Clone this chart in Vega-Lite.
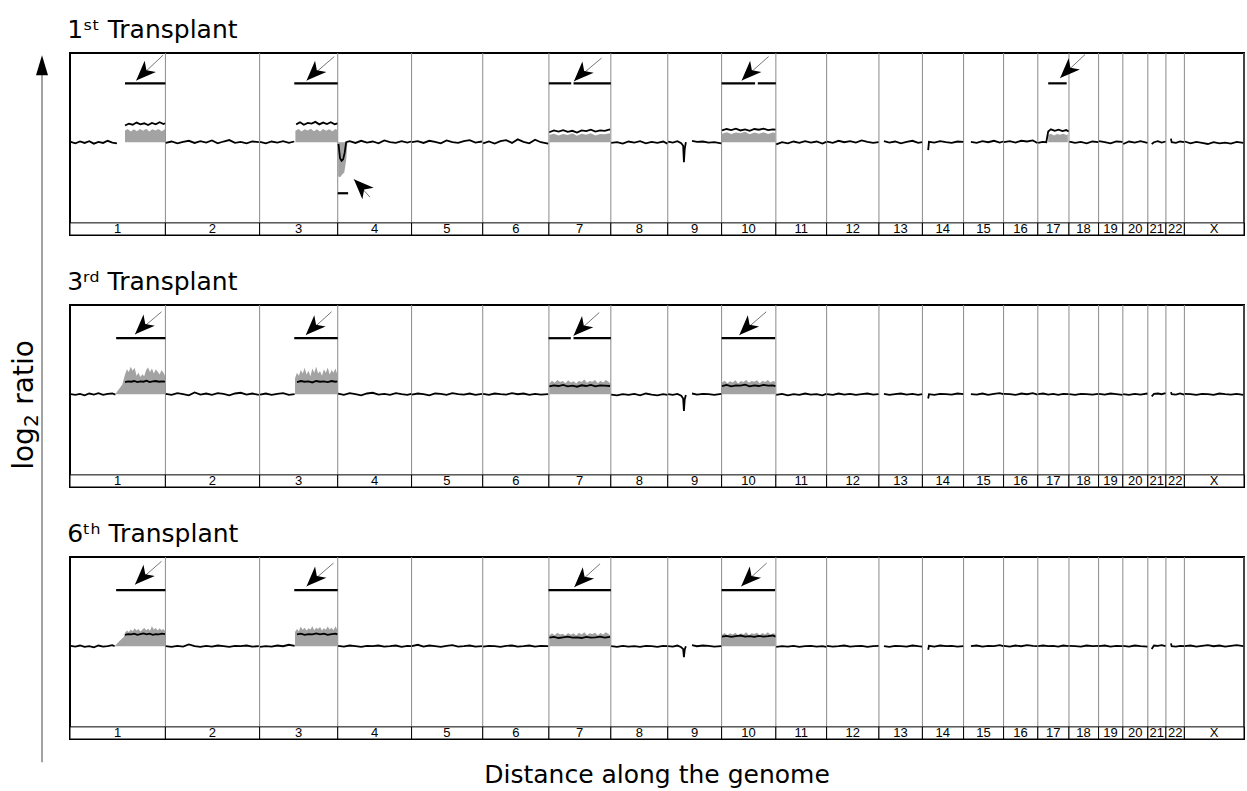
{
"$schema": "https://vega.github.io/schema/vega-lite/v6.json",
"background": "white",
"padding": {"left": 0, "top": 16, "right": 0, "bottom": 0},
"config": {"font": "DejaVu Sans", "view": {"stroke": "black", "strokeWidth": 2}},
"datasets": {
"chroms": [
{"c":"1","s":0,"e":248,"m":124},{"c":"2","s":248,"e":493,"m":370},{"c":"3","s":493,"e":696,"m":594},{"c":"4","s":696,"e":888,"m":792},{"c":"5","s":888,"e":1073,"m":980},{"c":"6","s":1073,"e":1245,"m":1159},{"c":"7","s":1245,"e":1406,"m":1325},{"c":"8","s":1406,"e":1554,"m":1480},{"c":"9","s":1554,"e":1694,"m":1624},{"c":"10","s":1694,"e":1835,"m":1764},{"c":"11","s":1835,"e":1967,"m":1901},{"c":"12","s":1967,"e":2103,"m":2035},{"c":"13","s":2103,"e":2216,"m":2159},{"c":"14","s":2216,"e":2323,"m":2269},{"c":"15","s":2323,"e":2427,"m":2375},{"c":"16","s":2427,"e":2516,"m":2471},{"c":"17","s":2516,"e":2597,"m":2556},{"c":"18","s":2597,"e":2674,"m":2635},{"c":"19","s":2674,"e":2737,"m":2705},{"c":"20","s":2737,"e":2802,"m":2769},{"c":"21","s":2802,"e":2849,"m":2825},{"c":"22","s":2849,"e":2897,"m":2873},{"c":"X","s":2897,"e":3052,"m":2974}
],
"profile": [
{"p":1,"c":"1a","pos":[2,14,26,38,50,62,74,86,98,110,122],"lr":[0.01,-0.03,0.02,-0.02,0.03,-0.04,0.01,-0.02,0.04,-0.01,-0.03]},
{"p":1,"c":"1b","pos":[143,153,163,173,183,193,203,213,223,233,243,247],"lr":[0.47,0.52,0.49,0.55,0.5,0.53,0.48,0.54,0.5,0.56,0.51,0.53]},
{"p":1,"c":"2","pos":[249,264,279,294,309,324,339,354,369,384,399,414,429,444,459,474,491],"lr":[-0.02,0.02,-0.03,0.01,0.04,-0.02,0.03,-0.01,0.05,-0.03,0.02,0.06,-0.02,0.01,-0.03,0.02,0.0]},
{"p":1,"c":"3a","pos":[494,509,524,539,554,569,583],"lr":[0.01,-0.03,0.02,-0.01,0.03,-0.02,0.02]},
{"p":1,"c":"3b","pos":[588,598,608,618,628,638,648,658,668,678,688,695],"lr":[0.5,0.56,0.49,0.54,0.52,0.57,0.5,0.55,0.51,0.56,0.5,0.53]},
{"p":1,"c":"4","pos":[698,702,706,710,714,718,727,742,757,772,787,802,817,832,847,862,877,887],"lr":[-0.05,-0.45,-0.52,-0.48,-0.3,0.0,0.03,-0.02,0.04,-0.01,0.02,-0.03,0.05,0.0,-0.02,0.03,-0.01,0.02]},
{"p":1,"c":"5","pos":[889,904,919,934,949,964,979,994,1009,1024,1039,1054,1071],"lr":[0.0,0.03,-0.02,0.04,0.01,-0.03,0.05,0.0,-0.02,0.03,0.06,-0.01,0.02]},
{"p":1,"c":"6","pos":[1074,1089,1104,1119,1134,1149,1164,1179,1194,1209,1224,1243],"lr":[-0.03,0.02,-0.04,0.03,0.06,-0.02,0.08,0.01,-0.03,0.07,0.0,-0.04]},
{"p":1,"c":"7","pos":[1246,1258,1270,1282,1294,1306,1318,1330,1342,1354,1366,1378,1390,1404],"lr":[0.28,0.33,0.3,0.34,0.29,0.32,0.27,0.33,0.31,0.35,0.3,0.33,0.32,0.36]},
{"p":1,"c":"8","pos":[1407,1422,1437,1452,1467,1482,1497,1512,1527,1542,1553],"lr":[-0.02,0.0,-0.04,0.02,-0.01,0.03,-0.03,0.01,-0.02,0.02,-0.04]},
{"p":1,"c":"9a","pos":[1555,1567,1579,1589,1594,1596,1598,1601],"lr":[0.02,-0.01,0.03,-0.03,-0.1,-0.56,-0.2,0.0]},
{"p":1,"c":"9b","pos":[1617,1630,1645,1660,1675,1693],"lr":[0.04,0.01,0.02,-0.01,0.0,-0.03]},
{"p":1,"c":"10","pos":[1695,1707,1719,1731,1743,1755,1767,1779,1791,1803,1815,1827,1834],"lr":[0.33,0.37,0.34,0.38,0.33,0.36,0.32,0.37,0.35,0.38,0.34,0.36,0.35]},
{"p":1,"c":"11","pos":[1836,1851,1866,1881,1896,1911,1926,1941,1956,1966],"lr":[-0.06,0.0,-0.03,0.02,-0.02,0.03,-0.01,0.02,-0.04,0.01]},
{"p":1,"c":"12","pos":[1968,1983,1998,2013,2028,2043,2058,2073,2088,2102],"lr":[0.02,-0.02,0.04,0.0,0.03,-0.01,0.05,0.01,-0.02,0.0]},
{"p":1,"c":"13","pos":[2116,2130,2145,2160,2175,2190,2205,2215],"lr":[0.03,-0.01,0.02,-0.03,0.01,0.04,-0.02,0.0]},
{"p":1,"c":"14","pos":[2231,2233,2247,2262,2277,2292,2307,2322],"lr":[-0.22,0.01,-0.01,0.03,0.0,-0.02,0.02,0.01]},
{"p":1,"c":"15","pos":[2342,2357,2372,2387,2402,2417,2426],"lr":[0.01,-0.02,0.03,0.0,0.04,-0.01,0.02]},
{"p":1,"c":"16","pos":[2428,2443,2458,2473,2488,2503,2515],"lr":[0.0,0.03,-0.01,0.04,0.02,0.05,-0.02]},
{"p":1,"c":"17","pos":[2517,2528,2538,2543,2550,2560,2570,2580,2590,2596],"lr":[-0.02,0.01,0.0,0.3,0.36,0.32,0.35,0.31,0.34,0.3]},
{"p":1,"c":"18","pos":[2598,2613,2628,2643,2658,2673],"lr":[0.02,-0.02,0.01,-0.03,0.02,0.0]},
{"p":1,"c":"19","pos":[2675,2690,2705,2720,2736],"lr":[0.03,0.0,-0.03,0.02,0.01]},
{"p":1,"c":"20","pos":[2738,2753,2768,2783,2801],"lr":[-0.05,0.02,-0.01,0.03,-0.02]},
{"p":1,"c":"21","pos":[2812,2818,2828,2838,2848],"lr":[-0.05,0.0,0.03,-0.01,0.02]},
{"p":1,"c":"22","pos":[2862,2864,2875,2886,2896],"lr":[0.1,0.0,-0.02,0.02,0.0]},
{"p":1,"c":"X","pos":[2898,2913,2928,2943,2958,2973,2988,3003,3018,3033,3050],"lr":[0.02,-0.03,0.01,-0.02,-0.05,0.0,-0.03,-0.01,-0.04,0.01,-0.02]},

{"p":2,"c":"1a","pos":[2,14,26,38,50,62,74,86,98,110,118],"lr":[0.0,-0.02,0.01,-0.03,0.02,-0.01,0.03,-0.02,0.01,0.02,-0.01]},
{"p":2,"c":"1b","pos":[143,151,159,167,175,183,191,199,207,215,223,231,239,247],"lr":[0.34,0.36,0.35,0.37,0.34,0.36,0.35,0.38,0.34,0.36,0.37,0.35,0.36,0.35]},
{"p":2,"c":"2","pos":[249,264,279,294,309,324,339,354,369,384,399,414,429,444,459,474,491],"lr":[0.01,-0.02,0.03,0.0,-0.03,0.05,-0.01,0.02,-0.02,0.03,0.01,-0.03,0.02,0.04,-0.01,0.02,-0.02]},
{"p":2,"c":"3a","pos":[494,509,524,539,554,569,584],"lr":[-0.01,0.02,-0.02,0.01,0.03,-0.02,0.0]},
{"p":2,"c":"3b","pos":[590,600,610,620,630,640,650,660,670,680,690,695],"lr":[0.34,0.37,0.35,0.36,0.33,0.37,0.35,0.36,0.34,0.37,0.35,0.36]},
{"p":2,"c":"4","pos":[697,712,727,742,757,772,787,802,817,832,847,862,877,887],"lr":[0.02,-0.02,0.03,0.0,-0.03,0.02,0.04,-0.01,0.01,-0.02,0.03,0.0,-0.02,0.01]},
{"p":2,"c":"5","pos":[889,904,919,934,949,964,979,994,1009,1024,1039,1054,1071],"lr":[-0.01,0.02,0.0,-0.03,0.02,0.01,-0.02,0.03,0.0,-0.01,0.02,-0.02,0.01]},
{"p":2,"c":"6","pos":[1074,1089,1104,1119,1134,1149,1164,1179,1194,1209,1224,1243],"lr":[0.01,-0.02,0.02,0.0,-0.01,0.03,0.0,0.02,-0.02,0.01,-0.01,0.0]},
{"p":2,"c":"7","pos":[1246,1258,1270,1282,1294,1306,1318,1330,1342,1354,1366,1378,1390,1404],"lr":[0.22,0.25,0.23,0.26,0.22,0.24,0.21,0.25,0.23,0.26,0.22,0.25,0.24,0.23]},
{"p":2,"c":"8","pos":[1407,1422,1437,1452,1467,1482,1497,1512,1527,1542,1553],"lr":[-0.01,-0.03,0.0,-0.02,0.01,-0.03,0.02,-0.01,-0.03,0.0,-0.02]},
{"p":2,"c":"9a","pos":[1555,1567,1579,1589,1594,1596,1598,1601],"lr":[0.0,-0.02,0.01,-0.04,-0.12,-0.47,-0.15,-0.02]},
{"p":2,"c":"9b","pos":[1617,1630,1645,1660,1675,1693],"lr":[0.02,-0.01,0.01,0.0,-0.02,0.01]},
{"p":2,"c":"10","pos":[1695,1707,1719,1731,1743,1755,1767,1779,1791,1803,1815,1827,1834],"lr":[0.23,0.26,0.22,0.25,0.24,0.27,0.22,0.25,0.23,0.26,0.24,0.25,0.23]},
{"p":2,"c":"11","pos":[1836,1851,1866,1881,1896,1911,1926,1941,1956,1966],"lr":[-0.02,0.01,-0.03,0.0,-0.02,0.02,-0.01,0.0,-0.03,0.01]},
{"p":2,"c":"12","pos":[1968,1983,1998,2013,2028,2043,2058,2073,2088,2102],"lr":[0.0,-0.02,0.02,-0.01,0.01,-0.02,0.0,0.02,-0.01,0.0]},
{"p":2,"c":"13","pos":[2116,2130,2145,2160,2175,2190,2205,2215],"lr":[0.01,-0.02,0.0,0.02,-0.01,0.01,-0.02,0.0]},
{"p":2,"c":"14","pos":[2231,2233,2247,2262,2277,2292,2307,2322],"lr":[-0.12,0.0,-0.02,0.01,0.0,-0.01,0.02,0.0]},
{"p":2,"c":"15","pos":[2342,2357,2372,2387,2402,2417,2426],"lr":[0.0,-0.01,0.02,-0.02,0.01,0.03,0.0]},
{"p":2,"c":"16","pos":[2428,2443,2458,2473,2488,2503,2515],"lr":[0.01,0.0,-0.02,0.02,0.0,0.03,-0.01]},
{"p":2,"c":"17","pos":[2517,2530,2543,2556,2569,2582,2596],"lr":[0.0,0.02,-0.01,0.01,-0.02,0.01,0.0]},
{"p":2,"c":"18","pos":[2598,2613,2628,2643,2658,2673],"lr":[0.0,-0.02,0.01,0.0,-0.01,0.01]},
{"p":2,"c":"19","pos":[2675,2690,2705,2720,2736],"lr":[0.01,-0.01,0.02,0.0,-0.02]},
{"p":2,"c":"20","pos":[2738,2753,2768,2783,2801],"lr":[0.0,-0.02,0.01,-0.01,0.02]},
{"p":2,"c":"21","pos":[2812,2818,2828,2838,2848],"lr":[-0.06,0.01,0.02,0.0,0.03]},
{"p":2,"c":"22","pos":[2862,2864,2875,2886,2896],"lr":[0.06,0.0,-0.01,0.02,-0.01]},
{"p":2,"c":"X","pos":[2898,2913,2928,2943,2958,2973,2988,3003,3018,3033,3050],"lr":[0.01,0.0,-0.02,0.01,0.0,-0.02,0.02,0.0,-0.01,0.01,-0.02]},

{"p":3,"c":"1a","pos":[2,14,26,38,50,62,74,86,98,110,116],"lr":[0.01,-0.01,0.02,-0.02,0.0,-0.03,0.02,-0.01,0.0,0.03,0.0]},
{"p":3,"c":"1b","pos":[143,151,159,167,175,183,191,199,207,215,223,231,239,247],"lr":[0.32,0.34,0.33,0.35,0.32,0.34,0.36,0.33,0.35,0.32,0.34,0.33,0.35,0.34]},
{"p":3,"c":"2","pos":[249,264,279,294,309,324,339,354,369,384,399,414,429,444,459,474,491],"lr":[0.0,-0.02,0.01,-0.01,0.05,0.0,-0.02,0.01,-0.01,0.02,0.0,-0.02,0.01,0.0,0.02,-0.01,0.0]},
{"p":3,"c":"3a","pos":[494,509,524,539,554,569,584],"lr":[-0.02,0.0,-0.01,0.02,0.0,0.04,0.01]},
{"p":3,"c":"3b","pos":[590,600,610,620,630,640,650,660,670,680,690,695],"lr":[0.33,0.35,0.32,0.34,0.33,0.36,0.33,0.35,0.32,0.34,0.35,0.33]},
{"p":3,"c":"4","pos":[697,712,727,742,757,772,787,802,817,832,847,862,877,887],"lr":[0.01,-0.01,0.02,0.0,-0.02,0.01,0.0,0.02,-0.01,0.0,0.02,-0.02,0.01,0.0]},
{"p":3,"c":"5","pos":[889,904,919,934,949,964,979,994,1009,1024,1039,1054,1071],"lr":[0.0,0.04,-0.01,0.02,0.0,-0.02,0.01,0.03,-0.01,0.0,0.02,-0.01,0.0]},
{"p":3,"c":"6","pos":[1074,1089,1104,1119,1134,1149,1164,1179,1194,1209,1224,1243],"lr":[-0.01,0.01,0.0,-0.02,0.01,0.02,-0.01,0.0,0.02,-0.01,0.01,0.0]},
{"p":3,"c":"7","pos":[1246,1258,1270,1282,1294,1306,1318,1330,1342,1354,1366,1378,1390,1404],"lr":[0.24,0.26,0.23,0.25,0.27,0.24,0.25,0.23,0.26,0.24,0.25,0.27,0.24,0.26]},
{"p":3,"c":"8","pos":[1407,1422,1437,1452,1467,1482,1497,1512,1527,1542,1553],"lr":[0.0,-0.02,0.01,-0.01,0.0,-0.02,0.01,0.0,-0.02,0.01,0.0]},
{"p":3,"c":"9a","pos":[1555,1567,1579,1589,1594,1596,1598,1601],"lr":[0.0,-0.01,0.02,-0.03,-0.08,-0.31,-0.1,0.0]},
{"p":3,"c":"9b","pos":[1617,1630,1645,1660,1675,1693],"lr":[0.03,0.0,0.02,0.01,-0.01,0.0]},
{"p":3,"c":"10","pos":[1695,1707,1719,1731,1743,1755,1767,1779,1791,1803,1815,1827,1834],"lr":[0.27,0.29,0.26,0.28,0.3,0.27,0.28,0.26,0.29,0.27,0.28,0.3,0.27]},
{"p":3,"c":"11","pos":[1836,1851,1866,1881,1896,1911,1926,1941,1956,1966],"lr":[-0.02,0.0,-0.01,0.01,-0.02,0.0,0.01,-0.01,0.0,-0.02]},
{"p":3,"c":"12","pos":[1968,1983,1998,2013,2028,2043,2058,2073,2088,2102],"lr":[0.01,-0.01,0.0,0.02,-0.01,0.0,0.01,-0.02,0.0,0.01]},
{"p":3,"c":"13","pos":[2116,2130,2145,2160,2175,2190,2205,2215],"lr":[0.0,-0.02,0.01,0.0,-0.01,0.02,0.0,-0.01]},
{"p":3,"c":"14","pos":[2231,2233,2247,2262,2277,2292,2307,2322],"lr":[-0.1,0.01,-0.01,0.02,0.0,0.01,-0.01,0.0]},
{"p":3,"c":"15","pos":[2342,2357,2372,2387,2402,2417,2426],"lr":[0.0,0.02,-0.01,0.01,0.0,0.03,0.0]},
{"p":3,"c":"16","pos":[2428,2443,2458,2473,2488,2503,2515],"lr":[0.01,-0.01,0.02,0.0,0.03,0.01,0.0]},
{"p":3,"c":"17","pos":[2517,2530,2543,2556,2569,2582,2596],"lr":[0.0,0.02,0.0,0.01,-0.01,0.02,0.0]},
{"p":3,"c":"18","pos":[2598,2613,2628,2643,2658,2673],"lr":[0.01,0.0,-0.01,0.02,0.0,0.01]},
{"p":3,"c":"19","pos":[2675,2690,2705,2720,2736],"lr":[0.0,0.02,-0.01,0.01,0.0]},
{"p":3,"c":"20","pos":[2738,2753,2768,2783,2801],"lr":[0.01,-0.01,0.02,0.0,-0.01]},
{"p":3,"c":"21","pos":[2812,2818,2828,2838,2848],"lr":[-0.08,0.02,0.01,0.03,0.0]},
{"p":3,"c":"22","pos":[2862,2864,2875,2886,2896],"lr":[0.08,0.0,-0.01,0.01,0.0]},
{"p":3,"c":"X","pos":[2898,2913,2928,2943,2958,2973,2988,3003,3018,3033,3050],"lr":[0.0,0.02,-0.01,0.01,0.03,0.0,0.02,-0.01,0.01,0.03,0.0]}
],
"fill": [
{"p":1,"r":"1","pos":[143,150,158,166,174,182,190,198,206,214,222,230,238,247],"top":[0.33,0.37,0.3,0.36,0.31,0.37,0.32,0.38,0.3,0.36,0.33,0.37,0.31,0.36]},
{"p":1,"r":"3","pos":[586,594,602,610,618,626,634,642,650,658,666,674,682,690,695],"top":[0.32,0.37,0.3,0.36,0.33,0.38,0.31,0.36,0.3,0.37,0.32,0.36,0.31,0.37,0.34]},
{"p":1,"r":"4","pos":[697,700,704,708,713,718,721],"top":[-0.95,-0.98,-0.96,-0.9,-0.85,-0.5,0.0]},
{"p":1,"r":"7","pos":[1246,1258,1270,1282,1294,1306,1318,1330,1342,1354,1366,1378,1390,1404],"top":[0.2,0.24,0.19,0.23,0.2,0.25,0.18,0.24,0.21,0.25,0.19,0.23,0.22,0.25]},
{"p":1,"r":"10","pos":[1695,1707,1719,1731,1743,1755,1767,1779,1791,1803,1815,1827,1834],"top":[0.24,0.28,0.23,0.27,0.25,0.29,0.22,0.27,0.24,0.28,0.23,0.27,0.26]},
{"p":1,"r":"17","pos":[2543,2550,2558,2566,2574,2582,2590,2594],"top":[0.2,0.24,0.19,0.23,0.21,0.24,0.2,0.22]},
{"p":2,"r":"1","pos":[118,124,130,136,143,148,153,158,163,168,173,178,183,188,193,198,203,208,213,218,223,228,233,238,243,247],"top":[0.0,0.1,0.18,0.27,0.55,0.7,0.62,0.77,0.66,0.74,0.52,0.6,0.48,0.56,0.5,0.68,0.75,0.62,0.72,0.58,0.7,0.63,0.55,0.68,0.6,0.52]},
{"p":2,"r":"3","pos":[585,590,595,600,605,610,615,620,625,630,635,640,645,650,655,660,665,670,675,680,685,690,695],"top":[0.45,0.6,0.52,0.68,0.58,0.74,0.55,0.66,0.5,0.72,0.6,0.77,0.58,0.65,0.52,0.7,0.6,0.75,0.55,0.68,0.6,0.72,0.55]},
{"p":2,"r":"7","pos":[1246,1253,1260,1267,1274,1281,1288,1295,1302,1309,1316,1323,1330,1337,1344,1351,1358,1365,1372,1379,1386,1393,1400,1405],"top":[0.3,0.38,0.32,0.4,0.34,0.37,0.31,0.39,0.33,0.36,0.3,0.38,0.34,0.41,0.32,0.37,0.35,0.4,0.31,0.38,0.33,0.4,0.35,0.3]},
{"p":2,"r":"10","pos":[1695,1702,1709,1716,1723,1730,1737,1744,1751,1758,1765,1772,1779,1786,1793,1800,1807,1814,1821,1828,1834],"top":[0.33,0.38,0.31,0.36,0.33,0.39,0.3,0.37,0.34,0.4,0.32,0.37,0.35,0.39,0.31,0.38,0.34,0.4,0.33,0.37,0.35]},
{"p":3,"r":"1","pos":[116,122,128,134,140,143,148,153,158,163,168,173,178,183,188,193,198,203,208,213,218,223,228,233,238,243,247],"top":[0.0,0.07,0.14,0.2,0.26,0.38,0.44,0.4,0.47,0.42,0.5,0.44,0.48,0.41,0.46,0.52,0.45,0.49,0.43,0.56,0.47,0.51,0.44,0.5,0.45,0.48,0.42]},
{"p":3,"r":"3","pos":[585,590,595,600,605,610,615,620,625,630,635,640,645,650,655,660,665,670,675,680,685,690,695],"top":[0.4,0.48,0.42,0.55,0.46,0.52,0.44,0.5,0.47,0.56,0.45,0.52,0.48,0.54,0.44,0.5,0.46,0.55,0.47,0.52,0.45,0.56,0.46]},
{"p":3,"r":"7","pos":[1246,1253,1260,1267,1274,1281,1288,1295,1302,1309,1316,1323,1330,1337,1344,1351,1358,1365,1372,1379,1386,1393,1400,1405],"top":[0.3,0.36,0.31,0.38,0.33,0.35,0.3,0.37,0.32,0.36,0.3,0.38,0.33,0.39,0.31,0.36,0.34,0.38,0.31,0.37,0.33,0.39,0.34,0.3]},
{"p":3,"r":"10","pos":[1695,1702,1709,1716,1723,1730,1737,1744,1751,1758,1765,1772,1779,1786,1793,1800,1807,1814,1821,1828,1834],"top":[0.32,0.37,0.31,0.36,0.33,0.38,0.3,0.36,0.33,0.39,0.31,0.36,0.34,0.38,0.31,0.37,0.33,0.39,0.32,0.36,0.34]}
],
"bars": [
{"p":1,"s":143,"e":248,"lev":1.65},{"p":1,"s":583,"e":696,"lev":1.65},{"p":1,"s":1245,"e":1303,"lev":1.65},{"p":1,"s":1309,"e":1406,"lev":1.65},{"p":1,"s":1694,"e":1781,"lev":1.65},{"p":1,"s":1788,"e":1835,"lev":1.65},{"p":1,"s":2543,"e":2591,"lev":1.65},{"p":1,"s":696,"e":723,"lev":-1.43},
{"p":2,"s":120,"e":248,"lev":1.57},{"p":2,"s":583,"e":696,"lev":1.57},{"p":2,"s":1244,"e":1302,"lev":1.57},{"p":2,"s":1309,"e":1406,"lev":1.57},{"p":2,"s":1694,"e":1833,"lev":1.57},
{"p":3,"s":120,"e":248,"lev":1.57},{"p":3,"s":583,"e":696,"lev":1.57},{"p":3,"s":1244,"e":1406,"lev":1.57},{"p":3,"s":1694,"e":1833,"lev":1.57}
],
"arrows": [
{"p":1,"tx":172,"ty":1.73,"ex":242,"ey":2.44,"ang":225},{"p":1,"tx":615,"ty":1.73,"ex":687,"ey":2.40,"ang":225},{"p":1,"tx":1310,"ty":1.71,"ex":1382,"ey":2.36,"ang":225},{"p":1,"tx":1746,"ty":1.73,"ex":1816,"ey":2.40,"ang":225},{"p":1,"tx":2574,"ty":1.80,"ex":2639,"ey":2.46,"ang":225},{"p":1,"tx":738,"ty":-1.04,"ex":780,"ey":-1.54,"ang":315},
{"p":2,"tx":169,"ty":1.68,"ex":238,"ey":2.31,"ang":225},{"p":2,"tx":613,"ty":1.66,"ex":680,"ey":2.31,"ang":225},{"p":2,"tx":1309,"ty":1.64,"ex":1376,"ey":2.29,"ang":225},{"p":2,"tx":1740,"ty":1.66,"ex":1810,"ey":2.31,"ang":225},
{"p":3,"tx":169,"ty":1.73,"ex":238,"ey":2.38,"ang":225},{"p":3,"tx":615,"ty":1.68,"ex":685,"ey":2.33,"ang":225},{"p":3,"tx":1311,"ty":1.66,"ex":1378,"ey":2.31,"ang":225},{"p":3,"tx":1745,"ty":1.68,"ex":1811,"ey":2.33,"ang":225}
],
"ylab": [
{"t":"log","x":0.5,"y":0.4445,"fs":28},{"t":"2","x":0.64,"y":0.4838,"fs":20},{"t":"ratio","x":0.5,"y":0.5513,"fs":28}
]
},
"spacing": 16,
"hconcat": [
{
"width": 50, "height": 712,
"view": {"stroke": null},
"layer": [
{"data": {"values": [{}]}, "mark": {"type": "rule", "color": "#666", "strokeWidth": 1.2},
 "encoding": {"x": {"datum": 0.84, "type": "quantitative", "scale": {"domain": [0, 1]}, "axis": null},
  "y": {"datum": 0.004, "type": "quantitative", "scale": {"domain": [0, 1]}, "axis": null}, "y2": {"datum": 0.975}}},
{"data": {"values": [{}]}, "mark": {"type": "point", "shape": "M0,0 L0.6,2 L-0.6,2 Z", "filled": true, "color": "black", "opacity": 1, "size": 400, "strokeWidth": 0},
 "encoding": {"x": {"datum": 0.84, "type": "quantitative", "scale": {"domain": [0, 1]}, "axis": null},
  "y": {"datum": 0.997, "type": "quantitative", "scale": {"domain": [0, 1]}, "axis": null}}},
{"data": {"name": "ylab"}, "mark": {"type": "text", "angle": 270, "align": "center", "baseline": "middle", "color": "black"},
 "encoding": {"x": {"field": "x", "type": "quantitative", "scale": {"domain": [0, 1]}, "axis": null},
  "y": {"field": "y", "type": "quantitative", "scale": {"domain": [0, 1]}, "axis": null},
  "text": {"field": "t"}, "size": {"field": "fs", "type": "quantitative", "scale": null}}}
]
},
{
"spacing": 31,
"title": {"text": "Distance along the genome", "orient": "bottom", "anchor": "middle", "fontSize": 25, "fontWeight": "normal", "offset": 22, "color": "black"},
"vconcat": [
{
"width": 1174, "height": 182,
"title": {"text": "1ˢᵗ Transplant", "anchor": "start", "fontSize": 25, "fontWeight": "normal", "offset": 10, "color": "black"},
"layer": [
{"data": {"name": "chroms"}, "mark": {"type": "rule", "color": "#8a8a8a", "strokeWidth": 1},
 "encoding": {"x": {"field": "e", "type": "quantitative", "scale": {"domain": [0, 3052], "nice": false, "zero": false}, "axis": null},
  "y": {"datum": -2.26, "type": "quantitative", "scale": {"domain": [-2.6, 2.5], "nice": false, "zero": false}, "axis": null}, "y2": {"datum": 2.5}}},
{"data": {"name": "chroms"}, "mark": {"type": "rect", "fill": "white", "stroke": "black", "strokeWidth": 1},
 "encoding": {"x": {"field": "s", "type": "quantitative", "scale": {"domain": [0, 3052], "nice": false, "zero": false}, "axis": null}, "x2": {"field": "e"},
  "y": {"datum": -2.6, "type": "quantitative", "scale": {"domain": [-2.6, 2.5], "nice": false, "zero": false}, "axis": null}, "y2": {"datum": -2.26}}},
{"data": {"name": "chroms"}, "mark": {"type": "text", "fontSize": 13, "baseline": "middle", "font": "Liberation Sans", "color": "black"},
 "encoding": {"x": {"field": "m", "type": "quantitative", "scale": {"domain": [0, 3052], "nice": false, "zero": false}, "axis": null},
  "y": {"datum": -2.43, "type": "quantitative", "scale": {"domain": [-2.6, 2.5], "nice": false, "zero": false}, "axis": null}, "text": {"field": "c"}}},
{"data": {"name": "fill"}, "transform": [{"filter": "datum.p == 1"}, {"flatten": ["pos", "top"]}],
 "mark": {"type": "area", "color": "#a3a3a3"},
 "encoding": {"x": {"field": "pos", "type": "quantitative", "scale": {"domain": [0, 3052], "nice": false, "zero": false}, "axis": null},
  "y": {"field": "top", "type": "quantitative", "scale": {"domain": [-2.6, 2.5], "nice": false, "zero": false}, "axis": null}, "y2": {"datum": 0}, "detail": {"field": "r"}}},
{"data": {"name": "profile"}, "transform": [{"filter": "datum.p == 1"}, {"flatten": ["pos", "lr"]}],
 "mark": {"type": "line", "color": "black", "strokeWidth": 1.8},
 "encoding": {"x": {"field": "pos", "type": "quantitative", "scale": {"domain": [0, 3052], "nice": false, "zero": false}, "axis": null},
  "y": {"field": "lr", "type": "quantitative", "scale": {"domain": [-2.6, 2.5], "nice": false, "zero": false}, "axis": null}, "detail": {"field": "c"}}},
{"data": {"name": "bars"}, "transform": [{"filter": "datum.p == 1"}],
 "mark": {"type": "rule", "color": "black", "strokeWidth": 2.2},
 "encoding": {"x": {"field": "s", "type": "quantitative", "scale": {"domain": [0, 3052], "nice": false, "zero": false}, "axis": null}, "x2": {"field": "e"},
  "y": {"field": "lev", "type": "quantitative", "scale": {"domain": [-2.6, 2.5], "nice": false, "zero": false}, "axis": null}}},
{"data": {"name": "arrows"}, "transform": [{"filter": "datum.p == 1"}],
 "mark": {"type": "rule", "color": "#777", "strokeWidth": 1},
 "encoding": {"x": {"field": "tx", "type": "quantitative", "scale": {"domain": [0, 3052], "nice": false, "zero": false}, "axis": null}, "x2": {"field": "ex"},
  "y": {"field": "ty", "type": "quantitative", "scale": {"domain": [-2.6, 2.5], "nice": false, "zero": false}, "axis": null}, "y2": {"field": "ey"}}},
{"data": {"name": "arrows"}, "transform": [{"filter": "datum.p == 1"}],
 "mark": {"type": "point", "shape": "M0,0 L0.8,2 L0,1.45 L-0.8,2 Z", "filled": true, "color": "black", "opacity": 1, "size": 400, "strokeWidth": 0},
 "encoding": {"x": {"field": "tx", "type": "quantitative", "scale": {"domain": [0, 3052], "nice": false, "zero": false}, "axis": null},
  "y": {"field": "ty", "type": "quantitative", "scale": {"domain": [-2.6, 2.5], "nice": false, "zero": false}, "axis": null},
  "angle": {"field": "ang", "type": "quantitative", "scale": null}}}
]
},
{
"width": 1174, "height": 182,
"title": {"text": "3ʳᵈ Transplant", "anchor": "start", "fontSize": 25, "fontWeight": "normal", "offset": 10, "color": "black"},
"layer": [
{"data": {"name": "chroms"}, "mark": {"type": "rule", "color": "#8a8a8a", "strokeWidth": 1},
 "encoding": {"x": {"field": "e", "type": "quantitative", "scale": {"domain": [0, 3052], "nice": false, "zero": false}, "axis": null},
  "y": {"datum": -2.26, "type": "quantitative", "scale": {"domain": [-2.6, 2.5], "nice": false, "zero": false}, "axis": null}, "y2": {"datum": 2.5}}},
{"data": {"name": "chroms"}, "mark": {"type": "rect", "fill": "white", "stroke": "black", "strokeWidth": 1},
 "encoding": {"x": {"field": "s", "type": "quantitative", "scale": {"domain": [0, 3052], "nice": false, "zero": false}, "axis": null}, "x2": {"field": "e"},
  "y": {"datum": -2.6, "type": "quantitative", "scale": {"domain": [-2.6, 2.5], "nice": false, "zero": false}, "axis": null}, "y2": {"datum": -2.26}}},
{"data": {"name": "chroms"}, "mark": {"type": "text", "fontSize": 13, "baseline": "middle", "font": "Liberation Sans", "color": "black"},
 "encoding": {"x": {"field": "m", "type": "quantitative", "scale": {"domain": [0, 3052], "nice": false, "zero": false}, "axis": null},
  "y": {"datum": -2.43, "type": "quantitative", "scale": {"domain": [-2.6, 2.5], "nice": false, "zero": false}, "axis": null}, "text": {"field": "c"}}},
{"data": {"name": "fill"}, "transform": [{"filter": "datum.p == 2"}, {"flatten": ["pos", "top"]}],
 "mark": {"type": "area", "color": "#a3a3a3"},
 "encoding": {"x": {"field": "pos", "type": "quantitative", "scale": {"domain": [0, 3052], "nice": false, "zero": false}, "axis": null},
  "y": {"field": "top", "type": "quantitative", "scale": {"domain": [-2.6, 2.5], "nice": false, "zero": false}, "axis": null}, "y2": {"datum": 0}, "detail": {"field": "r"}}},
{"data": {"name": "profile"}, "transform": [{"filter": "datum.p == 2"}, {"flatten": ["pos", "lr"]}],
 "mark": {"type": "line", "color": "black", "strokeWidth": 1.8},
 "encoding": {"x": {"field": "pos", "type": "quantitative", "scale": {"domain": [0, 3052], "nice": false, "zero": false}, "axis": null},
  "y": {"field": "lr", "type": "quantitative", "scale": {"domain": [-2.6, 2.5], "nice": false, "zero": false}, "axis": null}, "detail": {"field": "c"}}},
{"data": {"name": "bars"}, "transform": [{"filter": "datum.p == 2"}],
 "mark": {"type": "rule", "color": "black", "strokeWidth": 2.2},
 "encoding": {"x": {"field": "s", "type": "quantitative", "scale": {"domain": [0, 3052], "nice": false, "zero": false}, "axis": null}, "x2": {"field": "e"},
  "y": {"field": "lev", "type": "quantitative", "scale": {"domain": [-2.6, 2.5], "nice": false, "zero": false}, "axis": null}}},
{"data": {"name": "arrows"}, "transform": [{"filter": "datum.p == 2"}],
 "mark": {"type": "rule", "color": "#777", "strokeWidth": 1},
 "encoding": {"x": {"field": "tx", "type": "quantitative", "scale": {"domain": [0, 3052], "nice": false, "zero": false}, "axis": null}, "x2": {"field": "ex"},
  "y": {"field": "ty", "type": "quantitative", "scale": {"domain": [-2.6, 2.5], "nice": false, "zero": false}, "axis": null}, "y2": {"field": "ey"}}},
{"data": {"name": "arrows"}, "transform": [{"filter": "datum.p == 2"}],
 "mark": {"type": "point", "shape": "M0,0 L0.8,2 L0,1.45 L-0.8,2 Z", "filled": true, "color": "black", "opacity": 1, "size": 400, "strokeWidth": 0},
 "encoding": {"x": {"field": "tx", "type": "quantitative", "scale": {"domain": [0, 3052], "nice": false, "zero": false}, "axis": null},
  "y": {"field": "ty", "type": "quantitative", "scale": {"domain": [-2.6, 2.5], "nice": false, "zero": false}, "axis": null},
  "angle": {"field": "ang", "type": "quantitative", "scale": null}}}
]
},
{
"width": 1174, "height": 182,
"title": {"text": "6ᵗʰ Transplant", "anchor": "start", "fontSize": 25, "fontWeight": "normal", "offset": 10, "color": "black"},
"layer": [
{"data": {"name": "chroms"}, "mark": {"type": "rule", "color": "#8a8a8a", "strokeWidth": 1},
 "encoding": {"x": {"field": "e", "type": "quantitative", "scale": {"domain": [0, 3052], "nice": false, "zero": false}, "axis": null},
  "y": {"datum": -2.26, "type": "quantitative", "scale": {"domain": [-2.6, 2.5], "nice": false, "zero": false}, "axis": null}, "y2": {"datum": 2.5}}},
{"data": {"name": "chroms"}, "mark": {"type": "rect", "fill": "white", "stroke": "black", "strokeWidth": 1},
 "encoding": {"x": {"field": "s", "type": "quantitative", "scale": {"domain": [0, 3052], "nice": false, "zero": false}, "axis": null}, "x2": {"field": "e"},
  "y": {"datum": -2.6, "type": "quantitative", "scale": {"domain": [-2.6, 2.5], "nice": false, "zero": false}, "axis": null}, "y2": {"datum": -2.26}}},
{"data": {"name": "chroms"}, "mark": {"type": "text", "fontSize": 13, "baseline": "middle", "font": "Liberation Sans", "color": "black"},
 "encoding": {"x": {"field": "m", "type": "quantitative", "scale": {"domain": [0, 3052], "nice": false, "zero": false}, "axis": null},
  "y": {"datum": -2.43, "type": "quantitative", "scale": {"domain": [-2.6, 2.5], "nice": false, "zero": false}, "axis": null}, "text": {"field": "c"}}},
{"data": {"name": "fill"}, "transform": [{"filter": "datum.p == 3"}, {"flatten": ["pos", "top"]}],
 "mark": {"type": "area", "color": "#a3a3a3"},
 "encoding": {"x": {"field": "pos", "type": "quantitative", "scale": {"domain": [0, 3052], "nice": false, "zero": false}, "axis": null},
  "y": {"field": "top", "type": "quantitative", "scale": {"domain": [-2.6, 2.5], "nice": false, "zero": false}, "axis": null}, "y2": {"datum": 0}, "detail": {"field": "r"}}},
{"data": {"name": "profile"}, "transform": [{"filter": "datum.p == 3"}, {"flatten": ["pos", "lr"]}],
 "mark": {"type": "line", "color": "black", "strokeWidth": 1.8},
 "encoding": {"x": {"field": "pos", "type": "quantitative", "scale": {"domain": [0, 3052], "nice": false, "zero": false}, "axis": null},
  "y": {"field": "lr", "type": "quantitative", "scale": {"domain": [-2.6, 2.5], "nice": false, "zero": false}, "axis": null}, "detail": {"field": "c"}}},
{"data": {"name": "bars"}, "transform": [{"filter": "datum.p == 3"}],
 "mark": {"type": "rule", "color": "black", "strokeWidth": 2.2},
 "encoding": {"x": {"field": "s", "type": "quantitative", "scale": {"domain": [0, 3052], "nice": false, "zero": false}, "axis": null}, "x2": {"field": "e"},
  "y": {"field": "lev", "type": "quantitative", "scale": {"domain": [-2.6, 2.5], "nice": false, "zero": false}, "axis": null}}},
{"data": {"name": "arrows"}, "transform": [{"filter": "datum.p == 3"}],
 "mark": {"type": "rule", "color": "#777", "strokeWidth": 1},
 "encoding": {"x": {"field": "tx", "type": "quantitative", "scale": {"domain": [0, 3052], "nice": false, "zero": false}, "axis": null}, "x2": {"field": "ex"},
  "y": {"field": "ty", "type": "quantitative", "scale": {"domain": [-2.6, 2.5], "nice": false, "zero": false}, "axis": null}, "y2": {"field": "ey"}}},
{"data": {"name": "arrows"}, "transform": [{"filter": "datum.p == 3"}],
 "mark": {"type": "point", "shape": "M0,0 L0.8,2 L0,1.45 L-0.8,2 Z", "filled": true, "color": "black", "opacity": 1, "size": 400, "strokeWidth": 0},
 "encoding": {"x": {"field": "tx", "type": "quantitative", "scale": {"domain": [0, 3052], "nice": false, "zero": false}, "axis": null},
  "y": {"field": "ty", "type": "quantitative", "scale": {"domain": [-2.6, 2.5], "nice": false, "zero": false}, "axis": null},
  "angle": {"field": "ang", "type": "quantitative", "scale": null}}}
]
}
]
}
]
}
